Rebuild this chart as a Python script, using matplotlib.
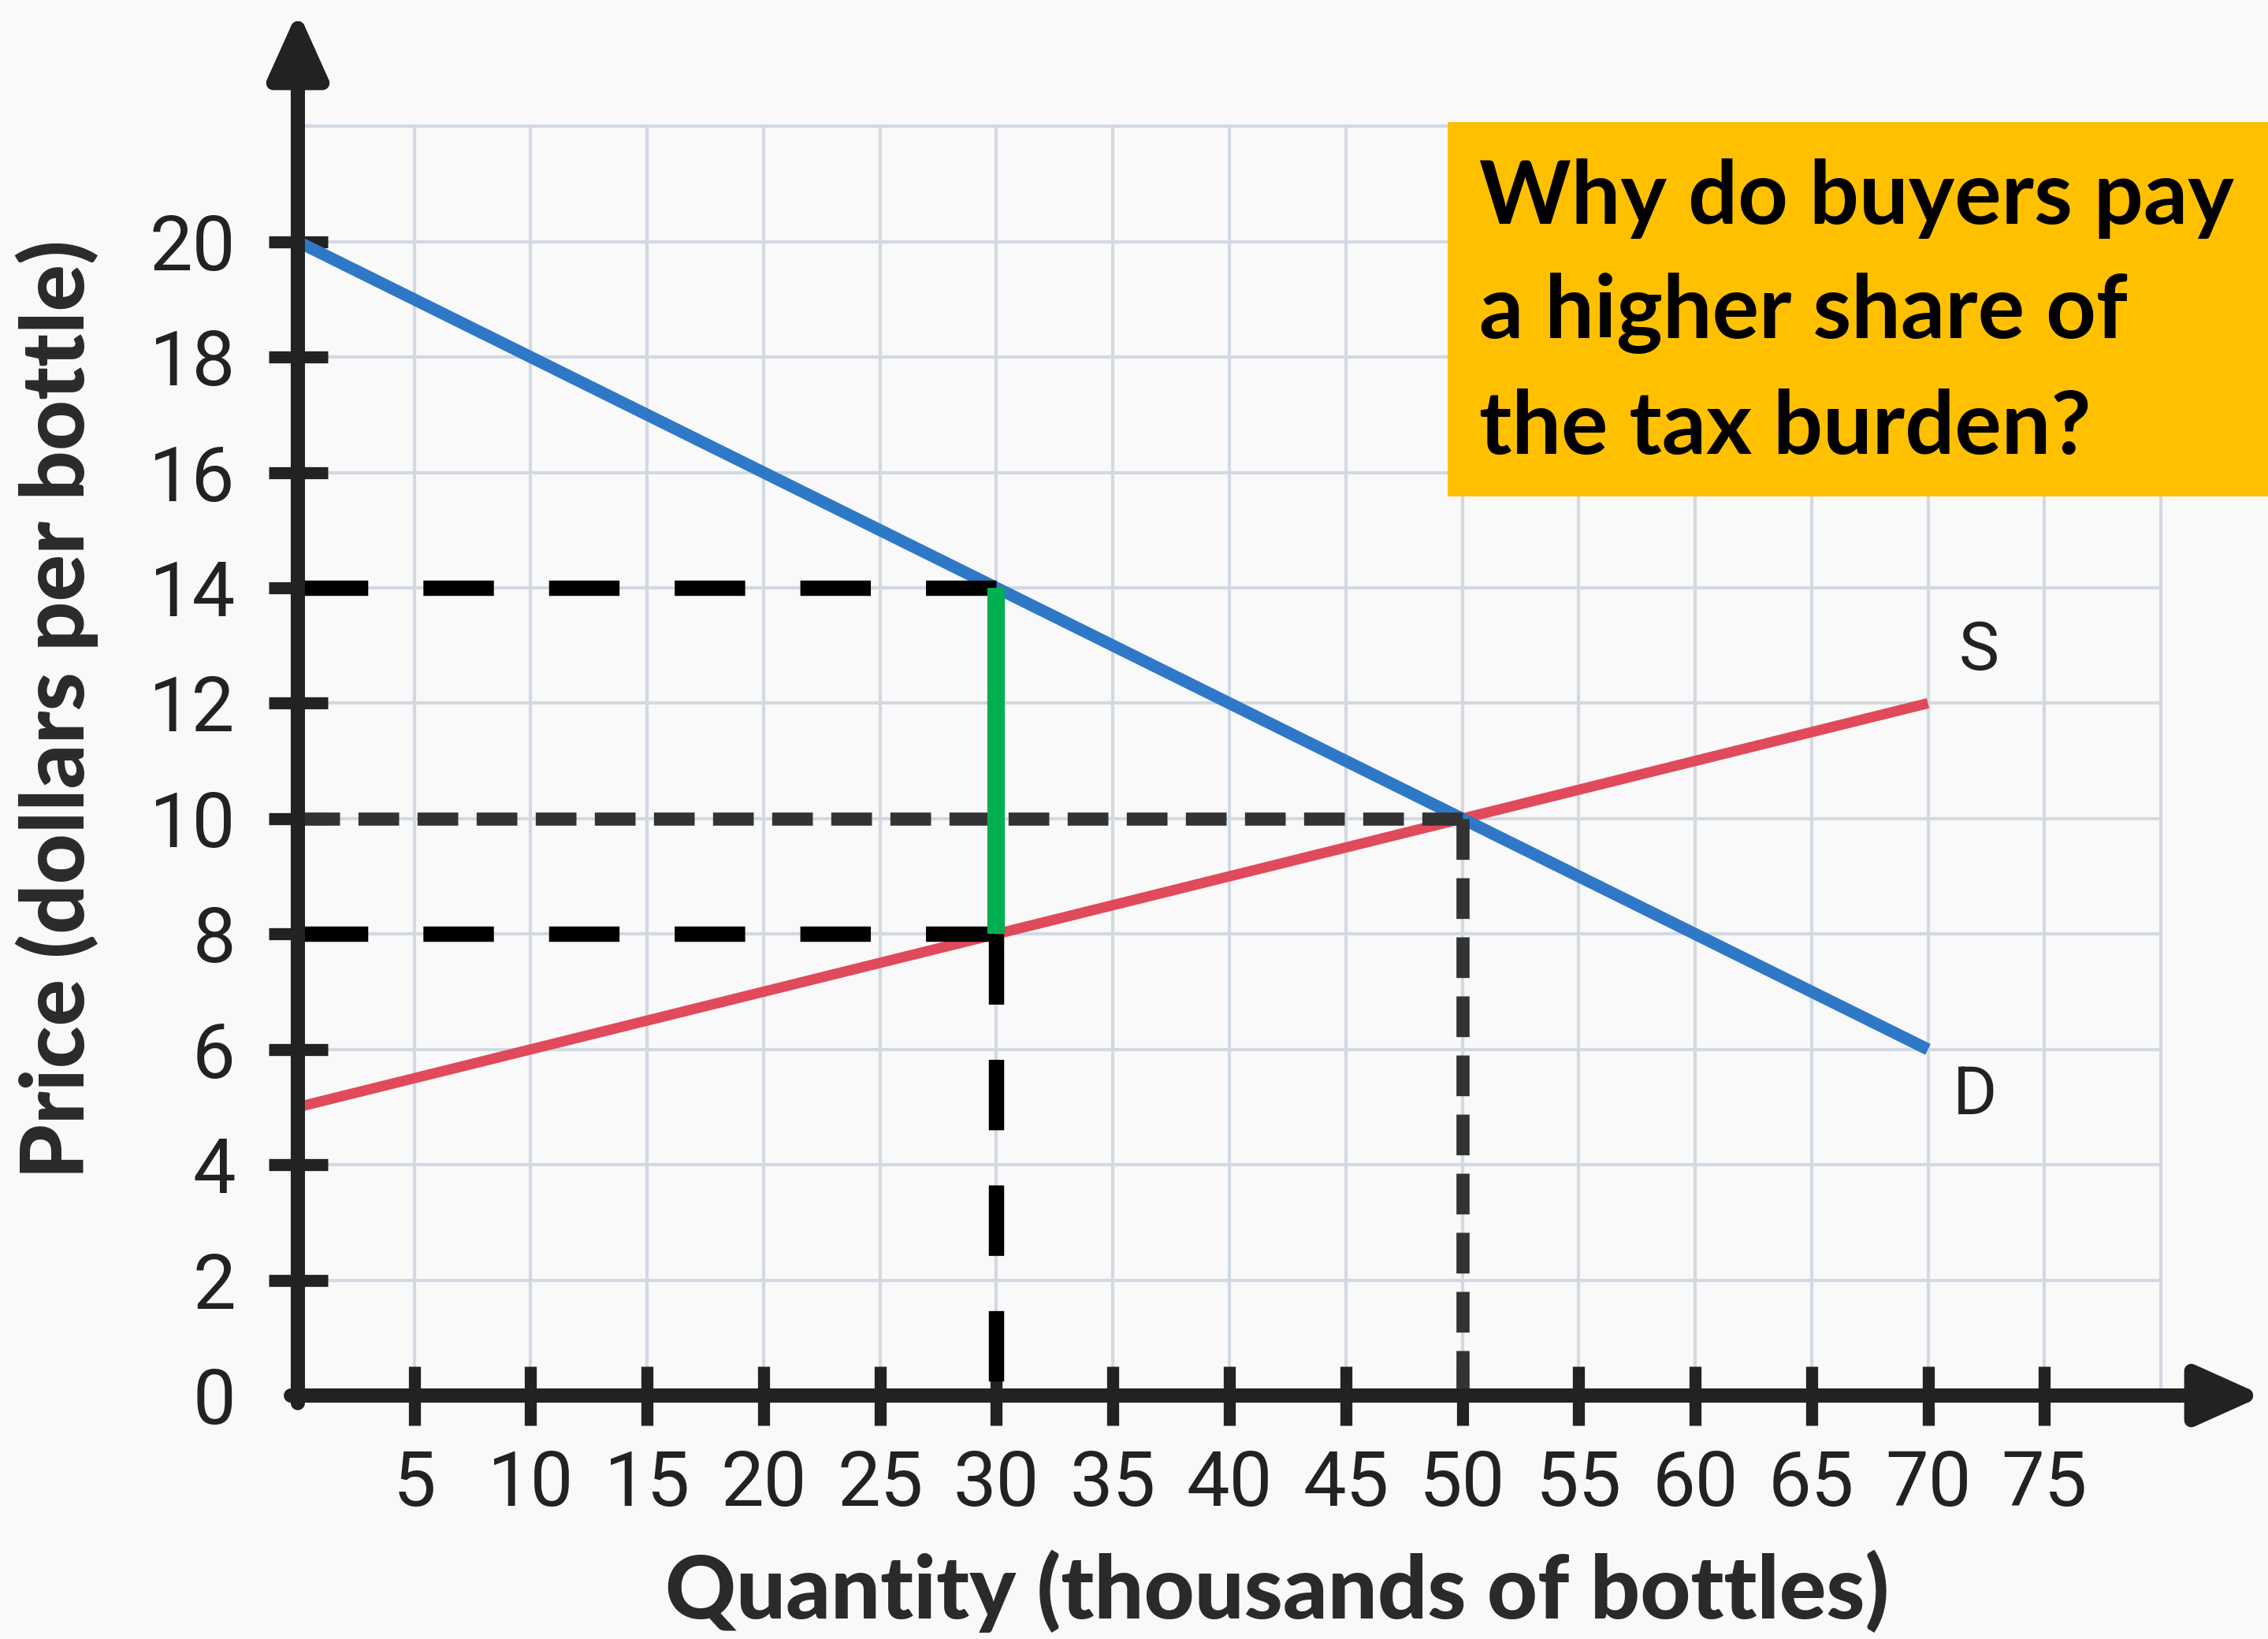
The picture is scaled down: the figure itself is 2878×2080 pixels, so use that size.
import matplotlib
matplotlib.use("Agg")
import matplotlib.pyplot as plt
from matplotlib.patches import Rectangle

# ---- data -------------------------------------------------------------
quantity_ticks = [5, 10, 15, 20, 25, 30, 35, 40, 45, 50, 55, 60, 65, 70, 75]
price_ticks = [0, 2, 4, 6, 8, 10, 12, 14, 16, 18, 20]

demand_q = [0, 70]
demand_p = [20, 6]
supply_q = [0, 70]
supply_p = [5, 12]

q_tax = 30          # quantity traded with the tax
p_buyers = 14       # price paid by buyers
p_sellers = 8       # price received by sellers
q_eq = 50           # equilibrium without tax
p_eq = 10

question_lines = ["Why do buyers pay", "a higher share of", "the tax burden?"]

# ---- figure -----------------------------------------------------------
W, H = 2878, 2080
fig = plt.figure(figsize=(W / 100, H / 100), dpi=100, facecolor="#f9f9f9")
ax = fig.add_axes([0, 0, 1, 1])
ax.set_facecolor("#f9f9f9")
ax.set_xlim(-12.79, 84.6)
ax.set_ylim(-4.22, 24.19)

for side in ["top", "right", "left", "bottom"]:
    ax.spines[side].set_visible(False)
ax.spines["left"].set_position(("data", 0))
ax.spines["bottom"].set_position(("data", 0))

axis_col = "#222222"

# grid
grid_col = "#d2d9e2"
ax.vlines(quantity_ticks + [80], 0, 22, color=grid_col, lw=3, zorder=1)
ax.hlines(price_ticks[1:] + [22], 0, 80, color=grid_col, lw=3, zorder=1)

# curves
ax.plot(supply_q, supply_p, color="#e04a5a", lw=9.5, solid_capstyle="butt", zorder=3)
ax.plot(demand_q, demand_p, color="#2f78c8", lw=11, solid_capstyle="butt", zorder=3)

# dashed guides to the tax prices / quantity
black_dash = dict(color="black", lw=14, dashes=(4.6, 3.6), dash_capstyle="butt", zorder=4)
ax.plot([q_tax, 0], [p_buyers, p_buyers], **black_dash)
ax.plot([q_tax, 0], [p_sellers, p_sellers], **black_dash)
ax.plot([q_tax, q_tax], [p_sellers, 0], **black_dash)

# dashed guides to the original equilibrium
grey_dash = dict(color="#333333", lw=12, dashes=(3.1, 1.4), dash_capstyle="butt", zorder=4)
ax.plot([q_eq, 0], [p_eq, p_eq], **grey_dash)
ax.plot([q_eq, q_eq], [p_eq, 0], **grey_dash)

# tax wedge
ax.plot([q_tax, q_tax], [p_sellers, p_buyers], color="#00b050", lw=16,
        solid_capstyle="butt", zorder=5)

# axes with arrow heads
arrow_style = "-|>,head_length=1.0,head_width=0.45"
ax.annotate("", xy=(0, 24.0), xytext=(0, -0.13),
            arrowprops=dict(arrowstyle=arrow_style, lw=13, color=axis_col,
                            mutation_scale=50, shrinkA=0, shrinkB=0), zorder=6)
ax.annotate("", xy=(84.4, 0), xytext=(-0.3, 0),
            arrowprops=dict(arrowstyle=arrow_style, lw=13, color=axis_col,
                            mutation_scale=50, shrinkA=0, shrinkB=0), zorder=6)

# ticks
tick_font = dict(family="Roboto", size=70, color=axis_col)
ax.set_xticks(quantity_ticks)
ax.set_xticklabels([str(v) for v in quantity_ticks], fontdict=tick_font)
ax.set_yticks(price_ticks)
ax.set_yticklabels([str(v) for v in price_ticks], fontdict=tick_font)
ax.tick_params(axis="both", direction="inout", length=54, width=11, color=axis_col)
ax.tick_params(axis="y", pad=30)
ax.tick_params(axis="x", pad=22)
ax.yaxis.get_major_ticks()[0].tick1line.set_visible(False)

# curve labels
label_font = dict(family="Roboto", size=62, color=axis_col, ha="center", va="center")
ax.text(72.2, 12.9, "S", **label_font)
ax.text(72.0, 5.2, "D", **label_font)

# axis titles
title_font = dict(family="Lato", weight="black", color="#2a2a2a", size=80)
fig.text(72 / W, 1 - 900 / H, "Price (dollars per bottle)", rotation=90,
         ha="center", va="center", **title_font)
fig.text(1621 / W, 1 - 2019 / H, "Quantity (thousands of bottles)",
         ha="center", va="center", **title_font)

# question box
fig.patches.append(Rectangle((1837 / W, 1 - 630 / H), (W - 1837) / W, (630 - 155) / H,
                             transform=fig.transFigure, facecolor="#ffc000",
                             edgecolor="none", zorder=10))
baselines = [284, 429, 576]
for line, b in zip(question_lines, baselines):
    fig.text(1877 / W, 1 - b / H, line, ha="left", va="baseline",
             family="Lato", weight="bold", size=80, color="black", zorder=11)

fig.savefig("out.png", dpi=100, facecolor=fig.get_facecolor())
